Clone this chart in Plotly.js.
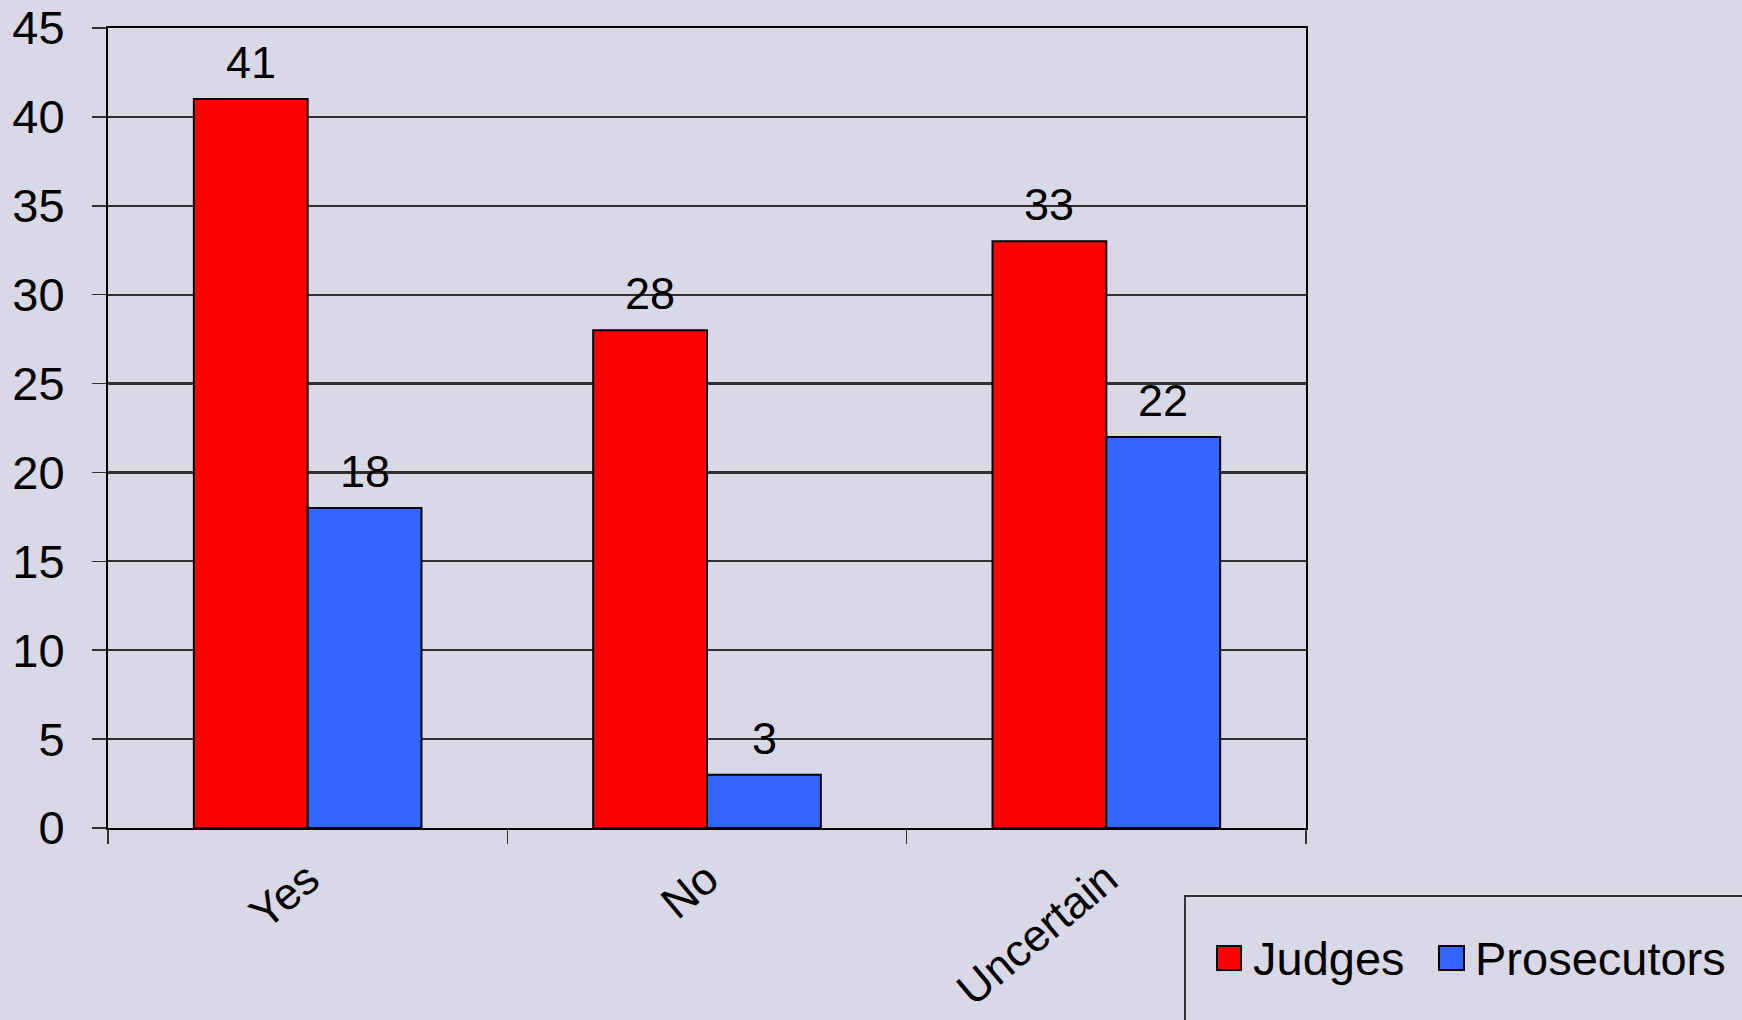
<!DOCTYPE html>
<html>
<head>
<meta charset="utf-8">
<script src="https://cdn.plot.ly/plotly-3.0.1.min.js"></script>
<style>
html,body{margin:0;padding:0;background:#d9d8e7;}
#chart{width:1742px;height:1020px;}
</style>
</head>
<body>
<div id="chart"></div>
<script>
const categories = ["Yes", "No", "Uncertain"];
const judges = [41, 28, 33];
const prosecutors = [18, 3, 22];
const seriesNames = ["Judges", "Prosecutors"];
const seriesColors = ["#ff0000", "#3366ff"];
const yTicks = [0, 5, 10, 15, 20, 25, 30, 35, 40, 45];

const FONT = "Liberation Sans, Arial, sans-serif";
const series = [judges, prosecutors];

const traces = series.map((vals, i) => ({
  type: "bar",
  x: categories,
  y: vals,
  name: seriesNames[i],
  marker: {color: seriesColors[i], line: {color: "#000", width: 2}},
  showlegend: false
}));

// plot-area mapping helpers for the hand-built legend box
const L = 108, R = 1306, T = 28, B = 828;
const px = x => (x - L) / (R - L);
const py = y => (B - y) / (B - T);

// value labels above each bar (positioned from the data through the axes)
const BAR_HALF = 57;
const valueLabels = [];
series.forEach((vals, i) => {
  vals.forEach((v, j) => {
    valueLabels.push({
      xref: "x", yref: "y", x: categories[j], y: v,
      xshift: (i === 0 ? -1 : 1) * BAR_HALF, yshift: 9,
      xanchor: "center", yanchor: "bottom",
      text: String(v), showarrow: false,
      font: {family: FONT, size: 45, color: "#000"}
    });
  });
});

const layout = {
  width: 1742, height: 1020,
  margin: {l: L, r: 1742 - R, t: T, b: 1020 - B},
  paper_bgcolor: "#d9d8e7",
  plot_bgcolor: "rgba(0,0,0,0)",
  barmode: "group",
  bargap: 0.43,
  bargroupgap: 0,
  font: {family: FONT, size: 45, color: "#000"},
  xaxis: {
    type: "category",
    tickson: "boundaries",
    ticks: "outside", ticklen: 14, tickwidth: 1.5, tickcolor: "#333",
    showline: true, linecolor: "#000", linewidth: 2, mirror: true,
    tickangle: -40,
    ticklabelstandoff: 5,
    tickfont: {family: FONT, size: 45, color: "#000"},
    showgrid: false
  },
  yaxis: {
    range: [0, 45],
    tickvals: yTicks,
    ticks: "outside", ticklen: 14, tickwidth: 1.5, tickcolor: "#333",
    showline: true, linecolor: "#000", linewidth: 2, mirror: true,
    showgrid: true, gridcolor: "#303030", gridwidth: 2.2,
    zeroline: false,
    ticklabelstandoff: 18,
    tickfont: {family: FONT, size: 47, color: "#000"}
  },
  shapes: [
    {type: "rect", xref: "paper", yref: "paper",
     x0: px(1185), x1: px(1780), y0: py(896), y1: py(1060),
     line: {color: "#333", width: 2}, fillcolor: "rgba(0,0,0,0)"},
    {type: "rect", xref: "paper", yref: "paper",
     x0: px(1217), x1: px(1241), y0: py(946), y1: py(970),
     line: {color: "#000", width: 2}, fillcolor: seriesColors[0]},
    {type: "rect", xref: "paper", yref: "paper",
     x0: px(1439), x1: px(1464), y0: py(946), y1: py(970),
     line: {color: "#000", width: 2}, fillcolor: seriesColors[1]}
  ],
  annotations: valueLabels.concat([
    {xref: "paper", yref: "paper", x: px(1251), y: py(958), xanchor: "left", yanchor: "middle",
     text: seriesNames[0], showarrow: false, font: {family: FONT, size: 47, color: "#000"}},
    {xref: "paper", yref: "paper", x: px(1473), y: py(958), xanchor: "left", yanchor: "middle",
     text: seriesNames[1], showarrow: false, font: {family: FONT, size: 47, color: "#000"}}
  ])
};

Plotly.newPlot("chart", traces, layout, {displayModeBar: false, staticPlot: true});
</script>
</body>
</html>
